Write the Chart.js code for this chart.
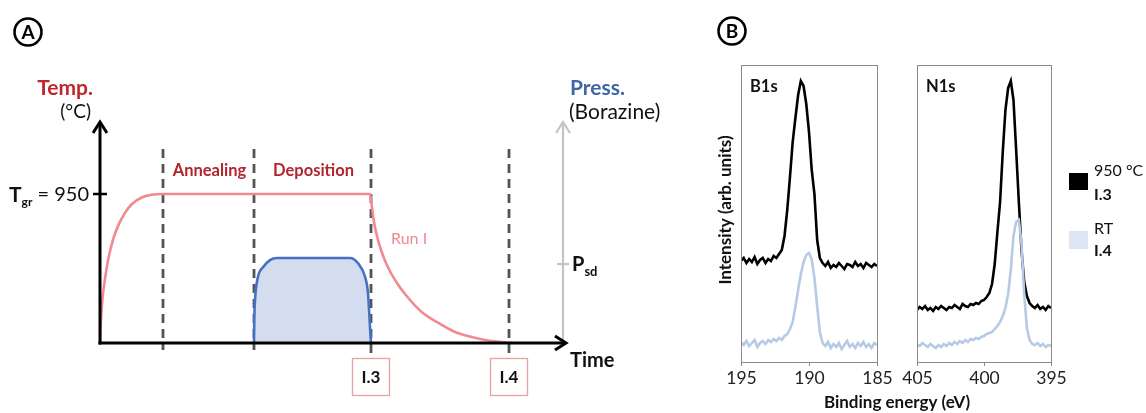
<!DOCTYPE html>
<html>
<head>
<meta charset="utf-8">
<script src="https://cdn.jsdelivr.net/npm/chart.js@4/dist/chart.umd.min.js"></script>
<style>
  html, body { margin:0; padding:0; background:#fff; }
  #wrap { position:relative; width:1146px; height:413px; overflow:hidden; background:#fff; }
  canvas { position:absolute; left:0; top:0; }
</style>
</head>
<body>
<div id="wrap">
  <canvas id="cA" width="1146" height="413"></canvas>
  <canvas id="cB1" width="1146" height="413"></canvas>
  <canvas id="cB2" width="1146" height="413"></canvas>
</div>
<script>
// ---------------- Panel A data (time in arbitrary units) ----------------
const tempTime = [0, 0.3, 1, 2.3, 5, 8.3, 13.3, 18.3, 25, 31.7, 41.7, 51.7, 63, 270, 271.7, 273.3, 276.7, 281.7, 288.3, 298.3, 308.3, 321.7, 338.3, 355, 371.7, 388.3, 405, 412];
const tempC    = [0, 70, 150, 270, 410, 535, 665, 750, 830, 885, 928, 945, 950, 950, 880, 797, 689, 580, 478, 370, 287, 198, 128, 70, 38, 15, 3, 0];
const pressTime = [154, 154.3, 155, 158, 163, 170, 177, 250, 258, 265, 268, 270, 271];
const pressVal  = [0, 0.3, 0.54, 0.84, 0.96, 1.05, 1.076, 1.076, 1.01, 0.84, 0.63, 0.2, 0];
const phaseTime = [63, 154, 271, 409];
const phaseNames = ['Annealing', 'Deposition'];
const sampleNames = ['I.3', 'I.4'];
const sampleTime = [271, 409];
const tempTick = 950;
const pressTick = 1;

// ---------------- Panel B data ----------------
const b1sEnergy = [195.0,194.8,194.6,194.4,194.2,194.0,193.8,193.6,193.4,193.2,193.0,192.8,192.6,192.4,192.2,192.0,191.8,191.6,191.4,191.2,191.0,190.8,190.6,190.4,190.2,190.0,189.8,189.6,189.4,189.2,189.0,188.8,188.6,188.4,188.2,188.0,187.8,187.6,187.4,187.2,187.0,186.8,186.6,186.4,186.2,186.0,185.8,185.6,185.4,185.2,185.0];
const b1sHot = [101,104,99,103,100,105,98,102,104,99,103,101,106,104,108,112,126,152,185,220,244,267,281,276,258,230,192,168,122,104,99,96,100,94,97,95,99,96,93,98,97,95,100,96,98,94,99,97,95,98,96];
const b1sRT  = [20,17,21,16,19,22,15,19,21,18,22,20,23,21,24,22,26,28,33,40,55,72,88,100,107,109,103,84,56,30,19,16,20,14,18,15,19,13,17,21,15,18,14,19,16,20,15,18,14,19,17];
const n1sEnergy = [405.0,404.8,404.6,404.4,404.2,404.0,403.8,403.6,403.4,403.2,403.0,402.8,402.6,402.4,402.2,402.0,401.8,401.6,401.4,401.2,401.0,400.8,400.6,400.4,400.2,400.0,399.8,399.6,399.4,399.2,399.0,398.8,398.6,398.4,398.2,398.0,397.8,397.6,397.4,397.2,397.0,396.8,396.6,396.4,396.2,396.0,395.8,395.6,395.4,395.2,395.0];
const n1sHot = [52,55,53,56,52,54,51,55,53,56,54,52,55,54,57,55,53,58,56,55,58,57,59,58,61,62,65,69,78,98,130,160,210,252,274,281,262,212,160,112,80,66,59,56,54,57,53,55,52,56,54];
const n1sRT  = [18,16,19,17,15,18,16,14,17,15,18,16,19,17,20,18,21,19,22,20,23,22,24,23,25,26,28,29,30,33,36,40,46,54,68,92,126,140,142,118,68,34,22,18,17,19,16,18,15,17,16];
const b1sTicks = [195, 190, 185];
const n1sTicks = [405, 400, 395];
const legendLines = [['950 °C', 'I.3'], ['RT', 'I.4']];

const FONT = "Lato, 'Open Sans', 'DejaVu Sans', sans-serif";
const COL = {
  tempLine: '#f08a8e', tempText: '#c0272d', phaseText: '#b0262c', runText: '#f08a90',
  pressLine: '#4472c4', pressFill: '#d3ddef', pressText: '#4067a8', grayAxis: '#c4c4c4',
  dash: '#545454', box: '#e8a0a0', hot: '#000000', rt: '#b6cae4', rtSwatch: '#dce6f2', frame: '#8a8a8a'
};

function pts(xs, ys) { return xs.map((x, i) => ({ x: x, y: ys[i] })); }

function circled(ctx, cx, cy, letter) {
  ctx.save();
  ctx.beginPath(); ctx.arc(cx, cy, 13.5, 0, Math.PI * 2);
  ctx.lineWidth = 2.6; ctx.strokeStyle = '#000'; ctx.stroke();
  ctx.fillStyle = '#000'; ctx.font = 'bold 19px ' + FONT;
  ctx.textAlign = 'center'; ctx.textBaseline = 'middle';
  ctx.fillText(letter, cx, cy + 1);
  ctx.restore();
}

function txt(ctx, s, x, y, font, color, align) {
  ctx.font = font; ctx.fillStyle = color; ctx.textAlign = align || 'left'; ctx.textBaseline = 'middle';
  ctx.fillText(s, x, y);
}

function arrowHead(ctx, tx, ty, dir) {
  ctx.beginPath();
  if (dir === 'up') { ctx.moveTo(tx - 7, ty + 11); ctx.lineTo(tx, ty); ctx.lineTo(tx + 7, ty + 11); }
  else { ctx.moveTo(tx - 11, ty - 7); ctx.lineTo(tx, ty); ctx.lineTo(tx - 11, ty + 7); }
  ctx.stroke();
}

// ---------------- Panel A ----------------
const panelAPlugin = {
  id: 'panelA',
  beforeDatasetsDraw(chart) {
    const ctx = chart.ctx, xs = chart.scales.x;
    ctx.save();
    ctx.strokeStyle = COL.dash; ctx.lineWidth = 2.8; ctx.setLineDash([9, 6]);
    phaseTime.forEach((t, i) => {
      const px = Math.round(xs.getPixelForValue(t));
      ctx.beginPath(); ctx.moveTo(px, 149); ctx.lineTo(px, i < 2 ? 350 : 357); ctx.stroke();
    });
    ctx.restore();
  },
  afterDatasetsDraw(chart) {
    const ctx = chart.ctx, xs = chart.scales.x, yT = chart.scales.yT, yP = chart.scales.yP, ca = chart.chartArea;
    const x0 = xs.getPixelForValue(0), y0 = yT.getPixelForValue(0);
    ctx.save();
    ctx.lineCap = 'butt';
    // pressure axis (gray)
    ctx.strokeStyle = COL.grayAxis; ctx.lineWidth = 2.2;
    ctx.beginPath(); ctx.moveTo(ca.right, y0); ctx.lineTo(ca.right, ca.top - 3); ctx.stroke();
    arrowHead(ctx, ca.right, ca.top - 3, 'up');
    const yPsd = yP.getPixelForValue(pressTick);
    ctx.beginPath(); ctx.moveTo(ca.right - 6, yPsd); ctx.lineTo(ca.right + 6, yPsd); ctx.stroke();
    // black axes
    ctx.strokeStyle = '#000'; ctx.lineWidth = 3;
    ctx.beginPath(); ctx.moveTo(x0, y0 + 1.5); ctx.lineTo(x0, ca.top - 3); ctx.stroke();
    arrowHead(ctx, x0, ca.top - 3, 'up');
    ctx.beginPath(); ctx.moveTo(x0 - 1.5, y0); ctx.lineTo(ca.right + 3, y0); ctx.stroke();
    arrowHead(ctx, ca.right + 3, y0, 'right');
    const yTgr = yT.getPixelForValue(tempTick);
    ctx.lineWidth = 2.5;
    ctx.beginPath(); ctx.moveTo(x0 - 7, yTgr); ctx.lineTo(x0 + 7, yTgr); ctx.stroke();

    // texts
    circled(ctx, 28, 32, 'A');
    txt(ctx, 'Temp.', 93, 88, 'bold 21px ' + FONT, COL.tempText, 'right');
    txt(ctx, '(°C)', 91, 112, '19px ' + FONT, '#111', 'right');
    // T_gr = 950
    ctx.font = '20px ' + FONT; const wEq = ctx.measureText(' = 950').width;
    ctx.font = 'bold 12px ' + FONT; const wSub = ctx.measureText('gr').width;
    ctx.font = 'bold 21px ' + FONT; const wT = ctx.measureText('T').width;
    let sx = x0 - 11 - wEq - wSub - wT;
    txt(ctx, 'T', sx, yTgr + 1, 'bold 21px ' + FONT, '#111');
    txt(ctx, 'gr', sx + wT, yTgr + 8, 'bold 12px ' + FONT, '#111');
    txt(ctx, ' = 950', sx + wT + wSub, yTgr + 1, '20px ' + FONT, '#111');
    // phase names
    phaseNames.forEach((n, i) => {
      const cx = (xs.getPixelForValue(phaseTime[i]) + xs.getPixelForValue(phaseTime[i + 1])) / 2;
      txt(ctx, n, cx + 1, 171, 'bold 16.5px ' + FONT, COL.phaseText, 'center');
    });
    txt(ctx, 'Run I', 391, 239, '16px ' + FONT, COL.runText, 'left');
    txt(ctx, 'Press.', 570, 88, 'bold 21px ' + FONT, COL.pressText, 'left');
    txt(ctx, '(Borazine)', 569, 112, '21px ' + FONT, '#111', 'left');
    txt(ctx, 'P', ca.right + 9, yPsd + 1, 'bold 20px ' + FONT, '#111', 'left');
    ctx.font = 'bold 20px ' + FONT; const wP = ctx.measureText('P').width;
    txt(ctx, 'sd', ca.right + 9 + wP, yPsd + 8, 'bold 13px ' + FONT, '#111', 'left');
    txt(ctx, 'Time', 570, 361, 'bold 20px ' + FONT, '#111', 'left');
    // sample boxes
    sampleTime.forEach((t, i) => {
      const cx = xs.getPixelForValue(t);
      ctx.strokeStyle = COL.box; ctx.lineWidth = 1.3; ctx.setLineDash([]);
      ctx.strokeRect(Math.round(cx - 19) + 0.5, 358.5, 37, 37);
      txt(ctx, sampleNames[i], cx, 378, 'bold 17px ' + FONT, '#111', 'center');
    });
    ctx.restore();
  }
};

new Chart(document.getElementById('cA'), {
  type: 'line',
  data: {
    datasets: [
      { label: 'Temp', data: pts(tempTime, tempC), yAxisID: 'yT', borderColor: COL.tempLine, borderWidth: 2.6,
        pointRadius: 0, fill: false, cubicInterpolationMode: 'monotone' },
      { label: 'Press', data: pts(pressTime, pressVal), yAxisID: 'yP', borderColor: COL.pressLine, borderWidth: 2.6,
        backgroundColor: COL.pressFill, pointRadius: 0, fill: 'origin', cubicInterpolationMode: 'monotone' }
    ]
  },
  options: {
    responsive: false, animation: false, devicePixelRatio: 1,
    layout: { padding: { left: 100, right: 583, top: 125, bottom: 70 } },
    plugins: { legend: { display: false }, tooltip: { enabled: false } },
    scales: {
      x: { type: 'linear', min: 0, max: 463, display: false },
      yT: { type: 'linear', min: 0, max: 1390, display: false },
      yP: { type: 'linear', min: 0, max: 2.76, display: false }
    }
  },
  plugins: [panelAPlugin]
});

// ---------------- Panel B ----------------
function spectrum(id, energies, hot, rt, name, ticks, pad, extra) {
  const plug = {
    id: 'spec_' + id,
    afterDatasetsDraw(chart) {
      const ctx = chart.ctx, ca = chart.chartArea, xs = chart.scales.x;
      ctx.save();
      ctx.strokeStyle = COL.frame; ctx.lineWidth = 1;
      ctx.strokeRect(Math.round(ca.left) + 0.5, Math.round(ca.top) + 0.5, Math.round(ca.right - ca.left), Math.round(ca.bottom - ca.top));
      ticks.forEach(t => {
        const px = Math.round(xs.getPixelForValue(t)) + 0.5;
        ctx.beginPath(); ctx.moveTo(px, ca.bottom); ctx.lineTo(px, ca.bottom + 4); ctx.stroke();
        txt(ctx, String(t), px, ca.bottom + 16, '17.5px ' + FONT, '#222', 'center');
      });
      txt(ctx, name, ca.left + 9, 87, 'bold 16.5px ' + FONT, '#111', 'left');
      if (extra) extra(ctx);
      ctx.restore();
    }
  };
  new Chart(document.getElementById(id), {
    type: 'line',
    data: {
      datasets: [
        { label: 'RT', data: pts(energies, rt), borderColor: COL.rt, borderWidth: 2.6, pointRadius: 0, tension: 0 },
        { label: '950', data: pts(energies, hot), borderColor: COL.hot, borderWidth: 2.6, pointRadius: 0, tension: 0 }
      ]
    },
    options: {
      responsive: false, animation: false, devicePixelRatio: 1,
      layout: { padding: pad },
      plugins: { legend: { display: false }, tooltip: { enabled: false } },
      scales: {
        x: { type: 'linear', reverse: true, min: Math.min(...ticks), max: Math.max(...ticks), display: false },
        y: { type: 'linear', min: 0, max: 297, display: false }
      }
    },
    plugins: [plug]
  });
}

spectrum('cB1', b1sEnergy, b1sHot, b1sRT, 'B1s', b1sTicks, { left: 741, right: 269, top: 65, bottom: 51 }, function (ctx) {
  circled(ctx, 732, 31, 'B');
  ctx.save();
  ctx.translate(726, 210); ctx.rotate(-Math.PI / 2);
  txt(ctx, 'Intensity (arb. units)', 0, 0, 'bold 17px ' + FONT, '#111', 'center');
  ctx.restore();
});
spectrum('cB2', n1sEnergy, n1sHot, n1sRT, 'N1s', n1sTicks, { left: 917, right: 95, top: 65, bottom: 51 }, function (ctx) {
  txt(ctx, 'Binding energy (eV)', 897, 403, 'bold 17px ' + FONT, '#111', 'center');
  // legend
  ctx.fillStyle = COL.hot; ctx.fillRect(1069, 173, 19, 17);
  ctx.fillStyle = COL.rtSwatch; ctx.fillRect(1069, 231, 19, 18);
  txt(ctx, legendLines[0][0], 1094, 171, '16px ' + FONT, '#111', 'left');
  txt(ctx, legendLines[0][1], 1094, 195, 'bold 16px ' + FONT, '#111', 'left');
  txt(ctx, legendLines[1][0], 1094, 229, '16px ' + FONT, '#111', 'left');
  txt(ctx, legendLines[1][1], 1094, 251, 'bold 16px ' + FONT, '#111', 'left');
});
</script>
</body>
</html>
